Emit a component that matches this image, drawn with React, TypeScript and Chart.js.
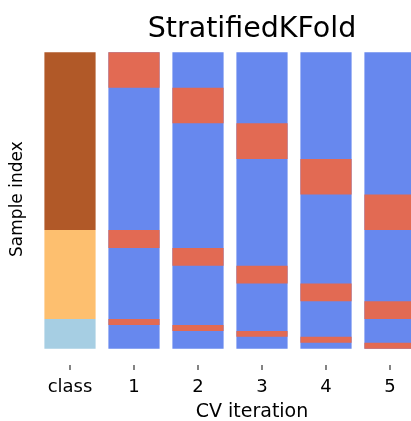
import React, { useEffect, useRef } from "react";
import { Chart, registerables } from "chart.js";

Chart.register(...registerables);

// ---- data ----
const columnLabels: string[] = ["class", "1", "2", "3", "4", "5"];
const columnPositions: number[] = [0, 1, 2, 3, 4, 5];

// class blocks along the sample index (start, end)
const classRanges: number[][] = [
  [0, 60],
  [60, 90],
  [90, 100],
];
const classColors: string[] = ["#b15928", "#fdbf6f", "#a6cee3"];

// full training span for each CV iteration
const trainRange: number[] = [0, 100];

// test-set blocks for each CV iteration (start, end)
const testRanges: number[][][] = [
  [[0, 12], [60, 66], [90, 92]],
  [[12, 24], [66, 72], [92, 94]],
  [[24, 36], [72, 78], [94, 96]],
  [[36, 48], [78, 84], [96, 98]],
  [[48, 60], [84, 90], [98, 100]],
];

const trainColor = "#6788ee";
const testColor = "#e26a53";

export default function App() {
  const canvasRef = useRef<HTMLCanvasElement | null>(null);

  useEffect(() => {
    const canvas = canvasRef.current;
    if (!canvas) return;
    Chart.defaults.font.family = "'DejaVu Sans', sans-serif";

    const testData = testRanges.flatMap((segs, i) =>
      segs.map((s) => ({ x: columnPositions[i + 1], y: s }))
    );
    const trainData = testRanges.map((_, i) => ({ x: columnPositions[i + 1], y: trainRange }));
    const classData = classRanges.map((r) => ({ x: columnPositions[0], y: r }));

    const common = {
      borderWidth: 0,
      grouped: false,
      barPercentage: 1,
      categoryPercentage: 0.8,
    };

    // short tick marks under the x axis at the scale's tick positions
    const tickMarks = {
      id: "tickMarks",
      afterDatasetsDraw(c: any) {
        const sx = c.scales.x;
        const ctx = c.ctx;
        const top = c.chartArea.bottom;
        ctx.save();
        ctx.strokeStyle = "#333333";
        ctx.lineWidth = 1.2;
        ctx.beginPath();
        for (const t of sx.ticks) {
          const px = Math.round(sx.getPixelForValue(t.value));
          ctx.moveTo(px, top);
          ctx.lineTo(px, top + 5);
        }
        ctx.stroke();
        ctx.restore();
      },
    };

    const chart = new Chart(canvas, {
      type: "bar",
      data: {
        datasets: [
          { label: "Testing set", data: testData as any, backgroundColor: testColor, ...common } as any,
          { label: "Training set", data: trainData as any, backgroundColor: trainColor, ...common } as any,
          { label: "class", data: classData as any, backgroundColor: classColors, ...common } as any,
        ],
      },
      plugins: [tickMarks],
      options: {
        animation: false,
        responsive: false,
        devicePixelRatio: 1,
        layout: { padding: 0 },
        plugins: {
          legend: { display: false },
          tooltip: { enabled: false },
          title: {
            display: true,
            text: "StratifiedKFold",
            color: "#000",
            font: { size: 28.5, weight: "normal" },
            padding: { top: 12, bottom: -13 },
          },
        },
        scales: {
          x: {
            type: "linear",
            position: "bottom",
            offset: false,
            min: -0.5,
            max: 6.1875,
            afterBuildTicks: (s: any) => {
              s.ticks = columnPositions.map((v) => ({ value: v }));
            },
            afterFit: (s: any) => {
              s.height = 56;
            },
            ticks: {
              autoSkip: false,
              color: "#000",
              font: { size: 18 },
              padding: 8,
              maxRotation: 0,
              callback: (v: any) => columnLabels[columnPositions.indexOf(Number(v))] ?? "",
            },
            grid: { display: false, offset: false, drawTicks: true, tickLength: 4 },
            border: { display: false },
            title: {
              display: true,
              text: "CV iteration",
              color: "#000",
              font: { size: 19 },
              padding: { top: 0, bottom: -2 },
            },
          },
          y: {
            type: "linear",
            position: "left",
            reverse: true,
            min: -6.4,
            max: 105.5,
            afterFit: (s: any) => {
              s.width = 38;
            },
            ticks: { display: false },
            grid: { display: false },
            border: { display: false },
            title: {
              display: true,
              text: "Sample index",
              color: "#000",
              font: { size: 17 },
              padding: { top: 7, bottom: 0 },
            },
          },
          yRight: {
            type: "linear",
            position: "right",
            display: true,
            afterFit: (s: any) => {
              s.width = 38;
            },
            ticks: { display: false },
            grid: { display: false },
            border: { display: false },
          },
        },
      } as any,
    });

    return () => chart.destroy();
  }, []);

  return (
    <div
      style={{
        position: "absolute",
        left: 0,
        top: 0,
        width: 411,
        height: 421,
        overflow: "hidden",
        background: "#fff",
      }}
    >
      <canvas ref={canvasRef} width={504} height={421} style={{ display: "block" }} />
    </div>
  );
}
